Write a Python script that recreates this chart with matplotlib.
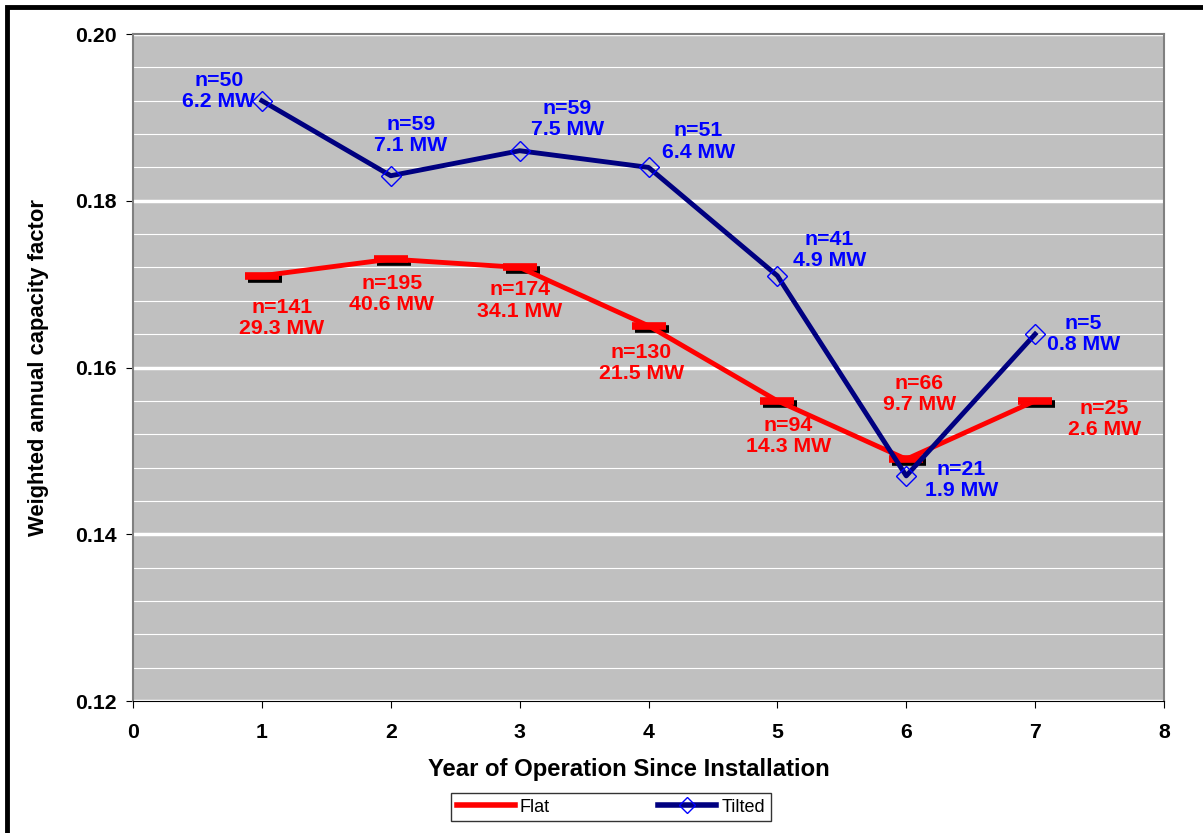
import matplotlib
matplotlib.use("Agg")
import matplotlib.pyplot as plt
import matplotlib.transforms as mtransforms
from matplotlib.patches import Rectangle
from matplotlib.lines import Line2D

plt.rcParams['font.family'] = ['Liberation Sans', 'DejaVu Sans']

years = [1, 2, 3, 4, 5, 6, 7]
flat_cf = [0.171, 0.173, 0.172, 0.165, 0.156, 0.149, 0.156]
tilted_cf = [0.192, 0.183, 0.186, 0.184, 0.171, 0.147, 0.164]
flat_n = [141, 195, 174, 130, 94, 66, 25]
flat_mw = [29.3, 40.6, 34.1, 21.5, 14.3, 9.7, 2.6]
tilted_n = [50, 59, 59, 51, 41, 21, 5]
tilted_mw = [6.2, 7.1, 7.5, 6.4, 4.9, 1.9, 0.8]

# label offsets in pixels from each point (dx, dy)
flat_offsets = [(20, -42), (1, -35), (0, -33), (-7, -37), (11, -35), (13, 65), (69, -18)]
tilted_offsets = [(-43, 10), (20, 41), (48, 32), (50, 26), (52, 26), (55, -4), (48, 0)]

fig = plt.figure(figsize=(12.03, 8.33), dpi=100)
ax = fig.add_axes([133 / 1203, 1 - 701 / 833, (1164 - 133) / 1203, (701 - 34) / 833])
ax.set_facecolor('#C0C0C0')

# outer black frame
fig.patches.append(Rectangle((7 / 1203, -0.1), 1.2, 1 - 7 / 833 + 0.1, transform=fig.transFigure,
                             fill=False, edgecolor='black', linewidth=3.5))

ax.set_xlim(0, 8)
ax.set_ylim(0.12, 0.20)
ax.set_xticks(range(0, 9))
ax.set_yticks([0.12, 0.14, 0.16, 0.18, 0.20])
ax.set_yticklabels(['0.12', '0.14', '0.16', '0.18', '0.20'])
ax.set_yticks([0.12 + 0.004 * i for i in range(21)], minor=True)
ax.grid(True, which='major', axis='y', color='white', linewidth=2.5)
ax.grid(True, which='minor', axis='y', color='white', linewidth=0.8)
ax.tick_params(axis='y', which='minor', length=0)
ax.tick_params(axis='both', which='major', labelsize=15.3, direction='out', length=5, width=0.8)
ax.tick_params(axis='x', which='major', pad=11)
ax.tick_params(axis='y', which='major', pad=7)
for lbl in ax.get_xticklabels() + ax.get_yticklabels():
    lbl.set_fontweight('bold')
ax.set_axisbelow(True)
for side in ['top', 'right', 'left']:
    ax.spines[side].set_color('#808080')
    ax.spines[side].set_linewidth(1.5)
ax.spines['bottom'].set_color('black')

ax.set_xlabel('Year of Operation Since Installation', fontsize=17.2, fontweight='bold')
ax.xaxis.set_label_coords(0.481, -0.085)
ax.set_ylabel('Weighted annual capacity factor', fontsize=15.8, fontweight='bold')
ax.yaxis.set_label_coords(-0.081, 0.5)

# flat series: line, shadowed bar markers
shadow = mtransforms.offset_copy(ax.transData, fig=fig, x=3, y=-3, units='dots')
ax.plot(years, flat_cf, linestyle='none', marker='_', markersize=25, markeredgewidth=5.5,
        color='black', transform=shadow, zorder=3)
ax.plot(years, flat_cf, color='red', linewidth=3.5, marker='_', markersize=25,
        markeredgewidth=5.5, zorder=4)

# tilted series
ax.plot(years, tilted_cf, color='#000080', linewidth=3.5, zorder=5)
ax.plot(years, tilted_cf, linestyle='none', marker='D', markersize=10, markerfacecolor='none',
        markeredgecolor='#0000FF', markeredgewidth=1, zorder=6)

for x, y, n, mw, (dx, dy) in zip(years, flat_cf, flat_n, flat_mw, flat_offsets):
    ax.annotate(f'n={n}\n{mw} MW', (x, y), xytext=(dx * 0.72, dy * 0.72), textcoords='offset points',
                ha='center', va='center', color='red', fontsize=15.3, fontweight='bold',
                linespacing=1.15, zorder=7)
for x, y, n, mw, (dx, dy) in zip(years, tilted_cf, tilted_n, tilted_mw, tilted_offsets):
    ax.annotate(f'n={n}\n{mw} MW', (x, y), xytext=(dx * 0.72, dy * 0.72), textcoords='offset points',
                ha='center', va='center', color='#0000FF', fontsize=15.3, fontweight='bold',
                linespacing=1.15, zorder=7)

handles = [Line2D([], [], color='red', linewidth=4),
           Line2D([], [], color='#000080', linewidth=4, marker='D', markersize=8,
                  markerfacecolor='none', markeredgecolor='#0000FF')]
leg = fig.legend(handles, ['Flat', 'Tilted'], loc='center', bbox_to_anchor=(611 / 1203, 1 - 807 / 833),
                 ncol=2, fontsize=13, frameon=True, fancybox=False, edgecolor='black',
                 handlelength=3.2, columnspacing=6, borderpad=0.3, handletextpad=0.3)
leg.get_frame().set_linewidth(1)

fig.savefig('out.png', dpi=100)
